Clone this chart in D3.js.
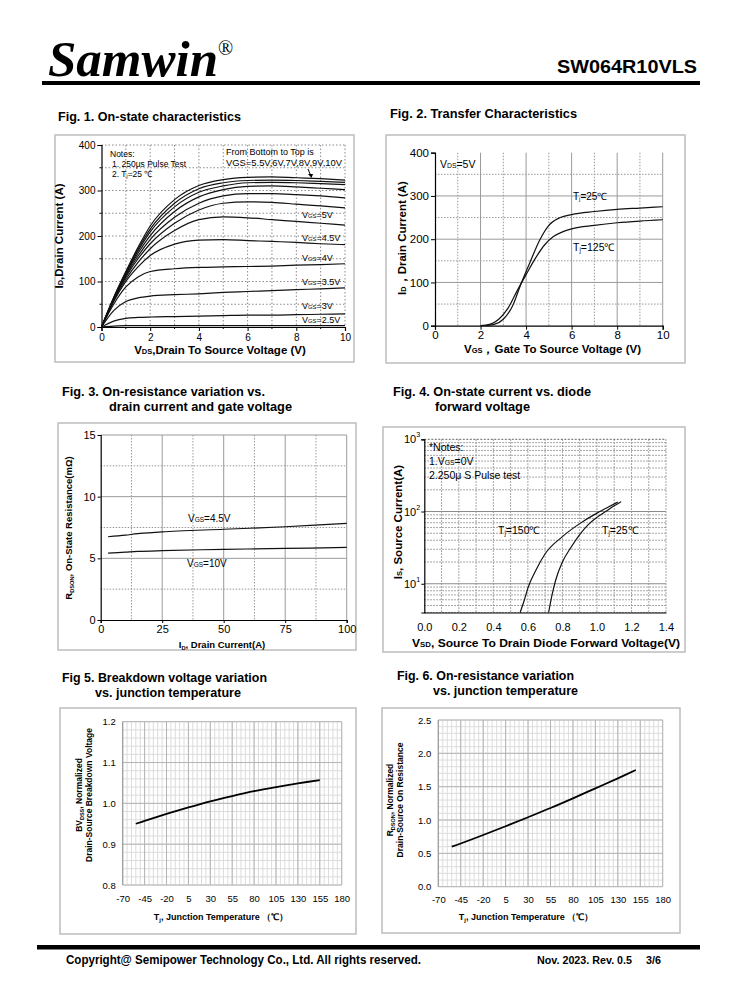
<!DOCTYPE html>
<html><head><meta charset="utf-8">
<script src="https://cdn.jsdelivr.net/npm/d3@7"></script>
<style>body{margin:0;background:#fff}svg{display:block}text{font-family:"Liberation Sans",Arial,sans-serif}</style>
</head><body><svg id="c" width="738" height="1000"></svg>
<script>
// ---------------- DATA ----------------
// Fig 1: On-state characteristics (ID vs VDS for several VGS)
const fig1Vds = [0, 0.5, 1, 1.5, 2, 3, 4, 5, 6, 7, 8, 9, 10];
const fig1Vgs = ["2.5V", "3V", "3.5V", "4V", "4.5V", "5V", "5.5V", "6V", "7V", "8V", "9V", "10V"];
const fig1Id_2p5 = [0, 2, 3, 3, 3, 3, 3, 3, 3, 3, 3, 3, 3];
const fig1Id_3 = [0, 13, 19, 21, 22, 23, 24, 25, 26, 26, 27, 28, 29];
const fig1Id_3p5 = [0, 36, 56, 64, 68, 71, 73, 76, 78, 80, 82, 84, 86];
const fig1Id_4 = [0, 50, 88, 110, 122, 128, 131, 132, 133, 134, 136, 137, 139];
const fig1Id_4p5 = [0, 56, 100, 132, 157, 182, 191, 192, 190, 188, 186, 183, 181];
const fig1Id_5 = [0, 58, 105, 142, 172, 212, 236, 242, 240, 236, 232, 228, 224];
const fig1Id_5p5 = [0, 60, 110, 150, 183, 228, 257, 272, 275, 274, 270, 266, 262];
const fig1Id_6 = [0, 61, 113, 156, 192, 241, 272, 288, 293, 293, 291, 288, 284];
const fig1Id_7 = [0, 62, 116, 162, 201, 254, 286, 302, 309, 310, 308, 305, 302];
const fig1Id_8 = [0, 63, 118, 167, 209, 264, 296, 310, 317, 318, 317, 315, 313];
const fig1Id_9 = [0, 64, 120, 171, 215, 272, 304, 317, 322, 323, 322, 320, 318];
const fig1Id_10 = [0, 65, 122, 175, 222, 280, 311, 324, 329, 330, 328, 326, 323];
const fig1Series = [fig1Id_2p5, fig1Id_3, fig1Id_3p5, fig1Id_4, fig1Id_4p5, fig1Id_5,
  fig1Id_5p5, fig1Id_6, fig1Id_7, fig1Id_8, fig1Id_9, fig1Id_10];
const fig1XTicks = [0, 2, 4, 6, 8, 10];
const fig1YTicks = [0, 100, 200, 300, 400];

// Fig 2: Transfer characteristics
const fig2Vgs25 = [2.2, 2.6, 3.0, 3.4, 3.8, 4.2, 4.6, 5.0, 5.5, 6, 7, 8, 9, 10];
const fig2Id25 = [0, 3, 15, 45, 100, 150, 198, 232, 250, 257, 264, 269, 272, 275];
const fig2Vgs125 = [2.0, 2.4, 2.8, 3.2, 3.6, 4.0, 4.4, 4.8, 5.2, 5.6, 6, 7, 8, 9, 10];
const fig2Id125 = [0, 3, 15, 40, 80, 118, 155, 186, 206, 217, 224, 232, 238, 242, 245];
const fig2XTicks = [0, 2, 4, 6, 8, 10];
const fig2YTicks = [0, 100, 200, 300, 400];

// Fig 3: RDS(on) vs ID
const fig3Id = [3, 10, 15, 25, 50, 75, 100];
const fig3R45 = [6.75, 6.88, 7.0, 7.15, 7.36, 7.56, 7.84];
const fig3R10 = [5.42, 5.5, 5.56, 5.62, 5.73, 5.8, 5.89];
const fig3XTicks = [0, 25, 50, 75, 100];
const fig3YTicks = [0, 5, 10, 15];

// Fig 4: Diode forward characteristics
const fig4Vsd150 = [0.555, 0.58, 0.6, 0.65, 0.7, 0.8, 0.9, 1.0, 1.05, 1.12];
const fig4Is150 = [4, 6, 8.7, 16, 26, 45, 68, 95, 110, 135];
const fig4Vsd25 = [0.72, 0.74, 0.76, 0.8, 0.85, 0.9, 0.95, 1.0, 1.05, 1.1, 1.14];
const fig4Is25 = [4, 7, 11, 20, 32, 48, 66, 83, 100, 120, 137];
const fig4XTicks = [0, 0.2, 0.4, 0.6, 0.8, 1.0, 1.2, 1.4];
const fig4YDecades = [1, 2, 3];

// Fig 5: BVDSS vs Tj
const fig5Tj = [-55, -45, -20, 5, 30, 55, 80, 105, 130, 155];
const fig5Bv = [0.950, 0.957, 0.974, 0.990, 1.005, 1.018, 1.030, 1.040, 1.049, 1.057];
const fig5XTicks = [-70, -45, -20, 5, 30, 55, 80, 105, 130, 155, 180];
const fig5YTicks = [0.8, 0.9, 1.0, 1.1, 1.2];

// Fig 6: RDS(on) normalized vs Tj
const fig6Tj = [-55, -45, -20, 5, 30, 55, 80, 105, 130, 150];
const fig6R = [0.6, 0.648, 0.775, 0.907, 1.042, 1.18, 1.325, 1.475, 1.625, 1.75];
const fig6XTicks = [-70, -45, -20, 5, 30, 55, 80, 105, 130, 155, 180];
const fig6YTicks = [0.0, 0.5, 1.0, 1.5, 2.0, 2.5];

// ---------------- HELPERS ----------------
const svg = d3.select('#c');
svg.append('rect').attr('width', 738).attr('height', 1000).attr('fill', '#fff');

function txt(g, x, y, parts, o = {}) {
  const size = o.size || 10;
  const t = g.append('text').attr('x', x).attr('y', y)
    .attr('font-size', size).attr('font-weight', o.bold ? 'bold' : 'normal')
    .attr('text-anchor', o.anchor || 'start').attr('fill', o.fill || '#000');
  if (o.family) t.style('font-family', o.family);
  if (o.style) t.attr('font-style', o.style);
  if (o.rotate) t.attr('transform', `rotate(${o.rotate},${x},${y})`);
  if (o.len) t.attr('textLength', o.len).attr('lengthAdjust', 'spacingAndGlyphs');
  if (typeof parts === 'string') parts = [[parts]];
  let cur = 0;
  parts.forEach(p => {
    const s = t.append('tspan').text(p[0]);
    if (p[1]) s.attr('font-size', size * p[1]);
    const target = p[2] || 0;
    if (target !== cur) { s.attr('dy', target - cur); cur = target; }
  });
  return t;
}
function frame(x0, y0, x1, y1) {
  svg.append('rect').attr('x', x0).attr('y', y0).attr('width', x1 - x0).attr('height', y1 - y0)
    .attr('fill', 'none').attr('stroke', '#bdbdbd').attr('stroke-width', 1.5);
}
function vlines(g, xs, vals, y0, y1, stroke, dash, w) {
  g.selectAll(null).data(vals).enter().append('line')
    .attr('x1', d => xs(d)).attr('x2', d => xs(d)).attr('y1', y0).attr('y2', y1)
    .attr('stroke', stroke).attr('stroke-width', w || 1).attr('stroke-dasharray', dash || null);
}
function hlines(g, ys, vals, x0, x1, stroke, dash, w) {
  g.selectAll(null).data(vals).enter().append('line')
    .attr('y1', d => ys(d)).attr('y2', d => ys(d)).attr('x1', x0).attr('x2', x1)
    .attr('stroke', stroke).attr('stroke-width', w || 1).attr('stroke-dasharray', dash || null);
}
function styleAxis(a, size, bold) {
  a.select('.domain').attr('stroke', '#000').attr('stroke-width', 1.2);
  a.selectAll('.tick line').attr('stroke', '#000');
  a.selectAll('text').attr('font-size', size).attr('fill', '#000')
    .style('font-family', '"Liberation Sans",Arial,sans-serif').attr('font-weight', bold ? 'bold' : 'normal');
}
const pts = (xs, ys) => xs.map((x, i) => [x, ys[i]]);

// ---------------- HEADER ----------------
txt(svg, 48, 76, 'Samwin', { size: 50, bold: true, style: 'italic', family: '"Liberation Serif","Times New Roman",serif', len: 170 });
txt(svg, 218, 55, '®', { size: 20, family: '"Liberation Serif",serif' });
txt(svg, 697, 73, 'SW064R10VLS', { size: 19, bold: true, anchor: 'end', len: 140 });
svg.append('rect').attr('x', 42).attr('y', 81).attr('width', 658).attr('height', 4).attr('fill', '#000');

// Figure titles
txt(svg, 58, 121, 'Fig. 1. On-state characteristics', { size: 12.5, bold: true, len: 183 });
txt(svg, 390, 118, 'Fig. 2. Transfer Characteristics', { size: 12.5, bold: true, len: 187 });
txt(svg, 62, 396, 'Fig. 3. On-resistance variation vs.', { size: 12.5, bold: true, len: 203 });
txt(svg, 109, 411, 'drain current and gate voltage', { size: 12.5, bold: true, len: 183 });
txt(svg, 393, 396, 'Fig. 4. On-state current vs. diode', { size: 12.5, bold: true, len: 198 });
txt(svg, 435, 411, 'forward voltage', { size: 12.5, bold: true, len: 95 });
txt(svg, 62, 682, 'Fig 5. Breakdown voltage variation', { size: 12.5, bold: true, len: 205 });
txt(svg, 95, 697, 'vs. junction temperature', { size: 12.5, bold: true, len: 146 });
txt(svg, 397, 680, 'Fig. 6. On-resistance variation', { size: 12.5, bold: true, len: 177 });
txt(svg, 433, 695, 'vs. junction temperature', { size: 12.5, bold: true, len: 145 });

// ---------------- FIG 1 ----------------
{
  frame(55, 135, 354, 362);
  const g = svg.append('g');
  const x = d3.scaleLinear().domain([0, 10]).range([101.5, 345]);
  const y = d3.scaleLinear().domain([0, 400]).range([327, 145]);
  vlines(g, x, d3.range(1, 11), y(400), y(0), '#8a8a8a', '1.5,2');
  hlines(g, y, d3.range(50, 401, 50), x(0), x(10), '#8a8a8a', '1.5,2');
  const ax = g.append('g').attr('transform', `translate(0,${y(0)})`)
    .call(d3.axisBottom(x).tickValues(fig1XTicks).tickSize(4).tickPadding(3));
  styleAxis(ax, 10);
  const ay = g.append('g').attr('transform', `translate(${x(0)},0)`)
    .call(d3.axisLeft(y).tickValues(fig1YTicks).tickSize(4).tickPadding(2));
  styleAxis(ay, 10);
  g.selectAll(null).data(d3.range(1, 10, 2)).enter().append('line')
    .attr('x1', d => x(d)).attr('x2', d => x(d)).attr('y1', y(0)).attr('y2', y(0) + 2).attr('stroke', '#000');
  g.selectAll(null).data(d3.range(50, 400, 100)).enter().append('line')
    .attr('x1', x(0) - 2).attr('x2', x(0)).attr('y1', d => y(d)).attr('y2', d => y(d)).attr('stroke', '#000');
  const line = d3.line().x(d => x(d[0])).y(d => y(d[1])).curve(d3.curveMonotoneX);
  g.selectAll('.c1').data(fig1Series).enter().append('path')
    .attr('d', s => line(pts(fig1Vds, s))).attr('fill', 'none').attr('stroke', '#111').attr('stroke-width', 1.2);
  const lab = [['5V', 218], ['4.5V', 241], ['4V', 261], ['3.5V', 285], ['3V', 309], ['2.5V', 323]];
  lab.forEach(l => txt(g, 302, l[1], [['V'], ['GS', 0.65], ['=' + l[0]]], { size: 9 }));
  txt(g, 110, 157, 'Notes:', { size: 8.5 });
  txt(g, 112, 167, '1. 250μs  Pulse Test', { size: 8.5 });
  txt(g, 112, 177, [['2. T'], ['j', 0.6, 1], ['=25 ℃']], { size: 8.5 });
  txt(g, 226, 155, 'From Bottom to Top is', { size: 9 });
  txt(g, 226, 166, 'VGS=5.5V,6V,7V,8V,9V,10V', { size: 9, len: 116 });
  g.append('line').attr('x1', 308).attr('y1', 169).attr('x2', 310.5).attr('y2', 175).attr('stroke', '#000');
  g.append('path').attr('d', 'M308,174 L313,174 L311.5,178 Z').attr('fill', '#000');
  txt(g, 63, 236, [['I'], ['D', 0.65], [',Drain Current (A)']], { size: 11.5, bold: true, anchor: 'middle', rotate: -90 });
  txt(g, 220, 354, [['V'], ['DS', 0.65], [',Drain To Source Voltage (V)']], { size: 11.5, bold: true, anchor: 'middle' });
}

// ---------------- FIG 2 ----------------
{
  frame(386, 135, 685, 363);
  const g = svg.append('g');
  const x = d3.scaleLinear().domain([0, 10]).range([435, 662.7]);
  const y = d3.scaleLinear().domain([0, 400]).range([325.7, 152.7]);
  vlines(g, x, [1, 3, 5, 7, 9], y(400), y(0), '#999', '1.5,1.5');
  hlines(g, y, [50, 150, 250, 350], x(0), x(10), '#999', '1.5,1.5');
  vlines(g, x, [2, 4, 6, 8, 10], y(400), y(0), '#9a9a9a');
  hlines(g, y, [100, 200, 300], x(0), x(10), '#9a9a9a');
  const ax = g.append('g').attr('transform', `translate(0,${y(0)})`)
    .call(d3.axisBottom(x).tickValues(fig2XTicks).tickSize(4).tickPadding(1));
  styleAxis(ax, 11.5);
  const ay = g.append('g').attr('transform', `translate(${x(0)},0)`)
    .call(d3.axisLeft(y).tickValues(fig2YTicks).tickSize(4).tickPadding(2));
  styleAxis(ay, 11.5);
  const line = d3.line().x(d => x(d[0])).y(d => y(d[1])).curve(d3.curveMonotoneX);
  g.append('path').attr('d', line(pts(fig2Vgs25, fig2Id25))).attr('fill', 'none').attr('stroke', '#111').attr('stroke-width', 1.2);
  g.append('path').attr('d', line(pts(fig2Vgs125, fig2Id125))).attr('fill', 'none').attr('stroke', '#111').attr('stroke-width', 1.2);
  txt(g, 440, 168, [['V'], ['DS', 0.65], ['=5V']], { size: 10.5 });
  txt(g, 573, 200, [['T'], ['j', 0.6, 1], ['=25℃']], { size: 10 });
  txt(g, 573, 251, [['T'], ['j', 0.6, 1], ['=125℃']], { size: 10.5 });
  txt(g, 406, 238, [['I'], ['D', 0.65], ['，Drain Current (A)']], { size: 11.5, bold: true, anchor: 'middle', rotate: -90 });
  txt(g, 464, 353, [['V'], ['GS', 0.65], ['，Gate To Source Voltage (V)']], { size: 11.5, bold: true });
}

// ---------------- FIG 3 ----------------
{
  frame(58, 423, 356, 650);
  const g = svg.append('g');
  const x = d3.scaleLinear().domain([0, 100]).range([100.7, 346.7]);
  const y = d3.scaleLinear().domain([0, 15]).range([620, 435]);
  vlines(g, x, [12.5, 37.5, 62.5, 87.5], y(15), y(0), '#999', '1.5,1.5');
  hlines(g, y, [2.5, 7.5, 12.5], x(0), x(100), '#999', '1.5,1.5');
  vlines(g, x, [25, 50, 75, 100], y(15), y(0), '#9a9a9a');
  hlines(g, y, [5, 10, 15], x(0), x(100), '#9a9a9a');
  const ax = g.append('g').attr('transform', `translate(0,${y(0)})`)
    .call(d3.axisBottom(x).tickValues(fig3XTicks).tickSize(3).tickPadding(2));
  styleAxis(ax, 11);
  const ay = g.append('g').attr('transform', `translate(${x(0)},0)`)
    .call(d3.axisLeft(y).tickValues(fig3YTicks).tickSize(3).tickPadding(2));
  styleAxis(ay, 11);
  const line = d3.line().x(d => x(d[0])).y(d => y(d[1])).curve(d3.curveCatmullRom);
  g.append('path').attr('d', line(pts(fig3Id, fig3R45))).attr('fill', 'none').attr('stroke', '#111').attr('stroke-width', 1.2);
  g.append('path').attr('d', line(pts(fig3Id, fig3R10))).attr('fill', 'none').attr('stroke', '#111').attr('stroke-width', 1.2);
  txt(g, 188, 522, [['V'], ['GS', 0.65], ['=4.5V']], { size: 10 });
  txt(g, 187, 567, [['V'], ['GS', 0.65], ['=10V']], { size: 10 });
  txt(g, 72, 528, [['R'], ['DSON', 0.6, 2], [', On-State Resistance(mΩ)']], { size: 9.5, bold: true, anchor: 'middle', rotate: -90 });
  txt(g, 222, 648, [['I'], ['D', 0.6, 2], [', Drain Current(A)']], { size: 9.5, bold: true, anchor: 'middle' });
}

// ---------------- FIG 4 ----------------
{
  frame(383, 427, 685, 652);
  const g = svg.append('g');
  const x = d3.scaleLinear().domain([0, 1.4]).range([424.3, 666]);
  const y = d3.scaleLog().domain([4, 1000]).range([612.5, 439.3]);
  const minorY = [];
  [1, 10, 100].forEach(dec => d3.range(1, 10).forEach(k => { const v = dec * k; if (v >= 4 && v < 1000 && k !== 1) minorY.push(v); }));
  hlines(g, y, minorY, x(0), x(1.4), '#8a8a8a', '1.5,1.5');
  vlines(g, x, d3.range(1, 15).map(d => d / 10), y(1000), y(4), '#8a8a8a', '1.5,1.5');
  hlines(g, y, [10, 100], x(0), x(1.4), '#8a8a8a');
  hlines(g, y, [1000], x(0), x(1.4), '#666', '2,1.5');
  const ax = g.append('g').attr('transform', `translate(0,${y(4)})`)
    .call(d3.axisBottom(x).tickValues(fig4XTicks).tickFormat(d3.format('.1f')).tickSize(0).tickPadding(11));
  styleAxis(ax, 11);
  const ay = g.append('g').attr('transform', `translate(${x(0)},0)`)
    .call(d3.axisLeft(y).tickValues([10, 100, 1000]).tickFormat('').tickSize(3));
  styleAxis(ay, 11);
  fig4YDecades.forEach(d => {
    txt(g, 404, y(Math.pow(10, d)) + 4, [['10'], [String(d), 0.65, -6]], { size: 11 });
  });
  const line = d3.line().x(d => x(d[0])).y(d => y(d[1])).curve(d3.curveMonotoneX);
  g.append('path').attr('d', line(pts(fig4Vsd150, fig4Is150))).attr('fill', 'none').attr('stroke', '#111').attr('stroke-width', 1.2);
  g.append('path').attr('d', line(pts(fig4Vsd25, fig4Is25))).attr('fill', 'none').attr('stroke', '#111').attr('stroke-width', 1.2);
  txt(g, 429, 451, '*Notes:', { size: 10.5 });
  txt(g, 429, 465, [['1.V'], ['GS', 0.65], ['=0V']], { size: 10.5 });
  txt(g, 429, 479, '2.250μ S Pulse test', { size: 10.5 });
  txt(g, 498, 534, [['T'], ['j', 0.6, 1], ['=150℃']], { size: 10.5 });
  txt(g, 602, 534, [['T'], ['j', 0.6, 1], ['=25℃']], { size: 10.5 });
  txt(g, 402, 522, [['I'], ['S', 0.65], [', Source Current(A)']], { size: 11.5, bold: true, anchor: 'middle', rotate: -90 });
  txt(g, 412, 647, [['V'], ['SD', 0.65], [', Source To Drain Diode Forward Voltage(V)']], { size: 11.5, bold: true, len: 268 });
}

// ---------------- FIG 5 / FIG 6 (Excel-like) ----------------
function tempChart(xTicks, yDom, yRange, xRange, minorStep, yTicks, xs, ys, ylab1, ylab2, labX) {
  const g = svg.append('g');
  const x = d3.scaleLinear().domain([-70, 180]).range(xRange);
  const y = d3.scaleLinear().domain(yDom).range(yRange);
  const nMinorY = Math.round((yDom[1] - yDom[0]) / minorStep);
  const yMinor = d3.range(0, nMinorY + 1).map(i => +(yDom[0] + i * minorStep).toFixed(3));
  vlines(g, x, d3.range(-70, 181, 5), y(yDom[1]), y(yDom[0]), '#dcdcdc');
  hlines(g, y, yMinor, x(-70), x(180), '#dcdcdc');
  vlines(g, x, d3.range(-70, 181, 25), y(yDom[1]), y(yDom[0]), '#b4b4b4');
  hlines(g, y, yTicks, x(-70), x(180), '#b4b4b4');
  vlines(g, x, [-70], y(yDom[1]), y(yDom[0]), '#999');
  const ax = g.append('g').attr('transform', `translate(0,${y(yDom[0])})`)
    .call(d3.axisBottom(x).tickValues(xTicks).tickFormat(d => String(d)).tickSize(0).tickPadding(10));
  ax.select('.domain').remove();
  styleAxis(ax, 9.5);
  const ay = g.append('g').attr('transform', `translate(${x(-70)},0)`)
    .call(d3.axisLeft(y).tickValues(yTicks).tickFormat(d3.format('.1f')).tickSize(0).tickPadding(7));
  ay.select('.domain').remove();
  styleAxis(ay, 9.5);
  const line = d3.line().x(d => x(d[0])).y(d => y(d[1])).curve(d3.curveCatmullRom);
  g.append('path').attr('d', line(pts(xs, ys))).attr('fill', 'none').attr('stroke', '#000').attr('stroke-width', 1.8);
  txt(g, ylab1.x, ylab1.y, ylab1.parts, { size: 8.5, bold: true, anchor: 'middle', rotate: -90 });
  txt(g, ylab2.x, ylab2.y, ylab2.parts, { size: 8.5, bold: true, anchor: 'middle', rotate: -90 });
  txt(g, labX, 920, [['T'], ['j', 0.65, 2], [', Junction Temperature （℃）', 1, 0]], { size: 9, bold: true, anchor: 'middle' });
}
frame(60, 708, 356, 934);
tempChart(fig5XTicks, [0.8, 1.2], [885, 721.7], [122.7, 341.7], 0.02, fig5YTicks, fig5Tj, fig5Bv,
  { x: 82, y: 795, parts: [['BV'], ['DSS', 0.65, 2], [', Normalized', 1, 0]] },
  { x: 92, y: 795, parts: [['Drain-Source Breakdown Voltage']] }, 221);
frame(382, 708, 680, 933);
tempChart(fig6XTicks, [0, 2.5], [886.7, 720], [438.3, 662.7], 0.1, fig6YTicks, fig6Tj, fig6R,
  { x: 393, y: 800, parts: [['R'], ['DSON', 0.65, 2], [', Normalized', 1, 0]] },
  { x: 403, y: 800, parts: [['Drain-Source On Resistance']] }, 526);

// ---------------- FOOTER ----------------
svg.append('rect').attr('x', 37).attr('y', 945).attr('width', 663).attr('height', 4.5).attr('fill', '#000');
txt(svg, 66, 964, 'Copyright@ Semipower Technology Co., Ltd. All rights reserved.', { size: 12, bold: true, len: 355 });
txt(svg, 537, 964, 'Nov. 2023. Rev. 0.5', { size: 10.5, bold: true, len: 95 });
txt(svg, 646, 964, '3/6', { size: 10.5, bold: true, len: 15 });
</script></body></html>
